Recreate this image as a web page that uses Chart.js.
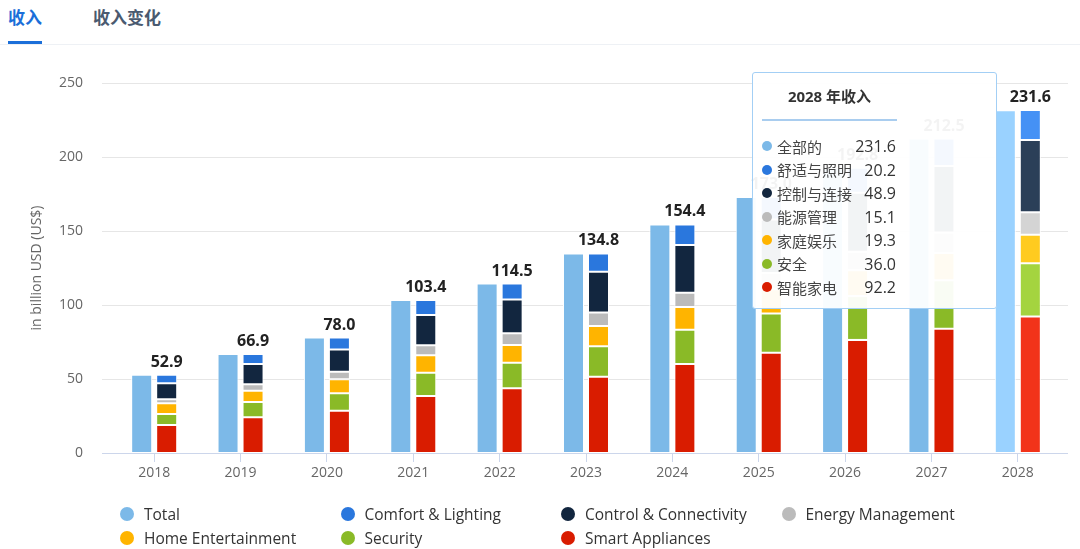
<!DOCTYPE html>
<html><head><meta charset="utf-8">
<script src="https://cdn.jsdelivr.net/npm/chart.js@4/dist/chart.umd.min.js"></script>
<style>
html,body{margin:0;padding:0;background:#fff;}
body{width:1080px;height:549px;position:relative;overflow:hidden;font-family:"Open Sans","Noto Sans CJK SC",sans-serif;}
#c{position:absolute;left:0;top:0;}
.tab{position:absolute;top:6px;font-size:17px;font-weight:bold;line-height:22px;font-family:"Noto Sans CJK SC",sans-serif;color:#4a5a70;white-space:nowrap;}
.tab.active{color:#1b6fd9;}
#ul{position:absolute;left:8px;top:41px;width:34px;height:3px;background:#1b6fd9;}
#sep{position:absolute;left:0;top:44px;width:1080px;height:1px;background:#eef1f5;}
#legend{position:absolute;left:120px;top:502px;display:grid;grid-template-columns:220.5px 220.5px 220.5px 220.5px;grid-auto-rows:24px;}
.li{display:flex;align-items:center;font-size:15.5px;color:#333;white-space:nowrap;font-family:"Open Sans",sans-serif;}
.li .dot{width:14px;height:14px;border-radius:50%;margin-right:10px;flex:none;}
#tip{position:absolute;left:752px;top:72px;width:245px;height:237px;box-sizing:border-box;background:rgba(255,255,255,0.95);border:1px solid #a3cff5;border-radius:3px;}
#tip .title{position:absolute;left:9px;width:135px;top:13px;line-height:20px;text-align:center;font-size:15px;font-weight:bold;color:#333;font-family:"Open Sans","Noto Sans CJK SC",sans-serif;}
#tip .line{position:absolute;left:9px;width:135px;top:46px;height:2px;background:#a9cdef;}
#tip .row{position:absolute;left:9px;width:134px;height:23.5px;display:flex;align-items:center;color:#333;}
#tip .row .d{width:10px;height:10px;border-radius:50%;margin-right:5px;flex:none;}
#tip .row .n{font-size:15px;font-family:"Noto Sans CJK SC",sans-serif;color:#444;}
#tip .row .v{margin-left:auto;font-size:16px;font-family:"Open Sans",sans-serif;color:#333;}
</style></head>
<body>
<div class="tab active" style="left:8px">收入</div>
<div class="tab" style="left:93px">收入变化</div>
<div id="sep"></div><div id="ul"></div>
<canvas id="c" width="1080" height="549"></canvas>
<div id="legend"></div>
<div id="tip"></div>
<script>
const YEARS = ['2018','2019','2020','2021','2022','2023','2024','2025','2026','2027','2028'];
const TOTAL    = [52.9, 66.9, 78.0, 103.4, 114.5, 134.8, 154.4, 173.0, 192.8, 212.5, 231.6];
const COMFORT  = [5.8, 6.8, 8.0, 10.2, 10.7, 12.3, 13.9, 15.3, 16.9, 18.5, 20.2];
const CONTROL  = [10.8, 13.7, 15.1, 20.4, 22.9, 27.5, 32.2, 36.0, 40.0, 45.0, 48.9];
const ENERGY   = [2.7, 4.3, 5.1, 6.8, 7.9, 9.2, 9.7, 11.0, 12.4, 13.8, 15.1];
const HOME     = [7.2, 7.6, 9.5, 11.7, 12.0, 13.7, 15.3, 16.4, 17.5, 18.4, 19.3];
const SECURITY = [7.4, 10.4, 11.7, 15.8, 17.3, 20.5, 23.2, 26.5, 29.6, 32.8, 36.0];
const SMART    = [19.0, 24.1, 28.6, 38.5, 43.7, 51.6, 60.1, 67.8, 76.4, 84.0, 92.2];
const Y_TICKS  = [0, 50, 100, 150, 200, 250];
const NAMES_EN = ['Total','Comfort & Lighting','Control & Connectivity','Energy Management','Home Entertainment','Security','Smart Appliances'];
const NAMES_ZH = ['全部的','舒适与照明','控制与连接','能源管理','家庭娱乐','安全','智能家电'];
const Y_TITLE = 'in billion USD (US$)';
const TIP_SUFFIX = ' 年收入';
const HOVER_INDEX = 10;

const COLORS = ['#7cb9e8','#2a77dd','#12263f','#bbbbbb','#ffb400','#8aba27','#d91c00'];
const HOVER_COLORS = ['#9ad2ff','#4591f5','#2b3f58','#d4d4d4','#ffcb1f','#a4d43f','#f2331a'];
const SERIES = [TOTAL, COMFORT, CONTROL, ENERGY, HOME, SECURITY, SMART];

function col(k){ return ctx => ctx.dataIndex === HOVER_INDEX ? HOVER_COLORS[k] : COLORS[k]; }

const datasets = [{label: NAMES_EN[0], data: TOTAL, stack: 'total', backgroundColor: col(0)}];
// stacking bottom -> top: Smart, Security, Home, Energy, Control, Comfort
[6,5,4,3,2,1].forEach(k => datasets.push({label: NAMES_EN[k], data: SERIES[k], stack: 'parts', backgroundColor: col(k)}));
datasets.forEach(d => {
  d.borderColor = '#ffffff'; d.borderWidth = 1; d.borderSkipped = false;
  d.categoryPercentage = 0.579; d.barPercentage = 0.84;
});

const gridPlugin = {
  id: 'gridExt',
  beforeDatasetsDraw(chart){
    const {ctx, chartArea: a, scales: {y}} = chart;
    ctx.save(); ctx.lineWidth = 1; ctx.strokeStyle = '#e6e6e6';
    Y_TICKS.forEach(v => { if (v === 0) return;
      const py = Math.round(y.getPixelForValue(v)) + 0.5;
      ctx.beginPath(); ctx.moveTo(a.left - 9, py); ctx.lineTo(a.right + 7, py); ctx.stroke(); });
    ctx.restore();
  },
  afterDatasetsDraw(chart){
    const {ctx, chartArea: a, scales: {y}} = chart;
    ctx.save(); ctx.lineWidth = 1; ctx.strokeStyle = '#ccd6eb';
    const py = Math.round(y.getPixelForValue(0)) + 0.5;
    ctx.beginPath(); ctx.moveTo(a.left - 9, py); ctx.lineTo(a.right + 7, py); ctx.stroke();
    // totals above the stacked bars
    const meta = chart.getDatasetMeta(chart.data.datasets.length - 1);
    ctx.font = 'bold 16px "Open Sans"'; ctx.fillStyle = '#222'; ctx.textAlign = 'center'; ctx.textBaseline = 'alphabetic';
    meta.data.forEach((el, i) => ctx.fillText(TOTAL[i].toFixed(1), el.x, el.y - 8));
    ctx.restore();
  }
};

new Chart(document.getElementById('c'), {
  type: 'bar',
  data: {labels: YEARS, datasets},
  options: {
    responsive: false, animation: false, events: [],
    layout: {padding: {top: 83, right: 19, bottom: 66, left: 0}},
    plugins: {legend: {display: false}, tooltip: {enabled: false}},
    scales: {
      x: {
        grid: {display: true, offset: false, drawOnChartArea: false, drawTicks: true, tickLength: 9, color: '#ccd6eb'},
        border: {display: false},
        ticks: {padding: 3, color: '#666', font: {size: 14, family: '"Open Sans"'}},
        afterFit: s => { s.height = 30; }
      },
      y: {
        stacked: true, min: 0, max: 250,
        afterBuildTicks: s => { s.ticks = Y_TICKS.map(v => ({value: v})); },
        grid: {display: false, drawTicks: false}, border: {display: false},
        ticks: {padding: 28, color: '#666', font: {size: 14, family: '"Open Sans"'}},
        title: {display: true, text: Y_TITLE, color: '#666', font: {size: 14, family: '"Open Sans"'}, padding: {top: 28.6, bottom: 0}},
        afterFit: s => { s.width = 111; }
      }
    }
  },
  plugins: [gridPlugin]
});

// legend
const lg = document.getElementById('legend');
NAMES_EN.forEach((n, k) => {
  const it = document.createElement('div'); it.className = 'li';
  it.innerHTML = '<span class="dot" style="background:' + COLORS[k] + '"></span><span>' + n + '</span>';
  lg.appendChild(it);
});

// tooltip for hovered year
const tip = document.getElementById('tip');
let html = '<div class="title">' + YEARS[HOVER_INDEX] + TIP_SUFFIX + '</div><div class="line"></div>';
NAMES_ZH.forEach((n, k) => {
  html += '<div class="row" style="top:' + (61.25 + 23.5 * k) + 'px"><span class="d" style="background:' + COLORS[k] + '"></span><span class="n">' + n + '</span><span class="v">' + SERIES[k][HOVER_INDEX].toFixed(1) + '</span></div>';
});
tip.innerHTML = html;
</script>
</body></html>
